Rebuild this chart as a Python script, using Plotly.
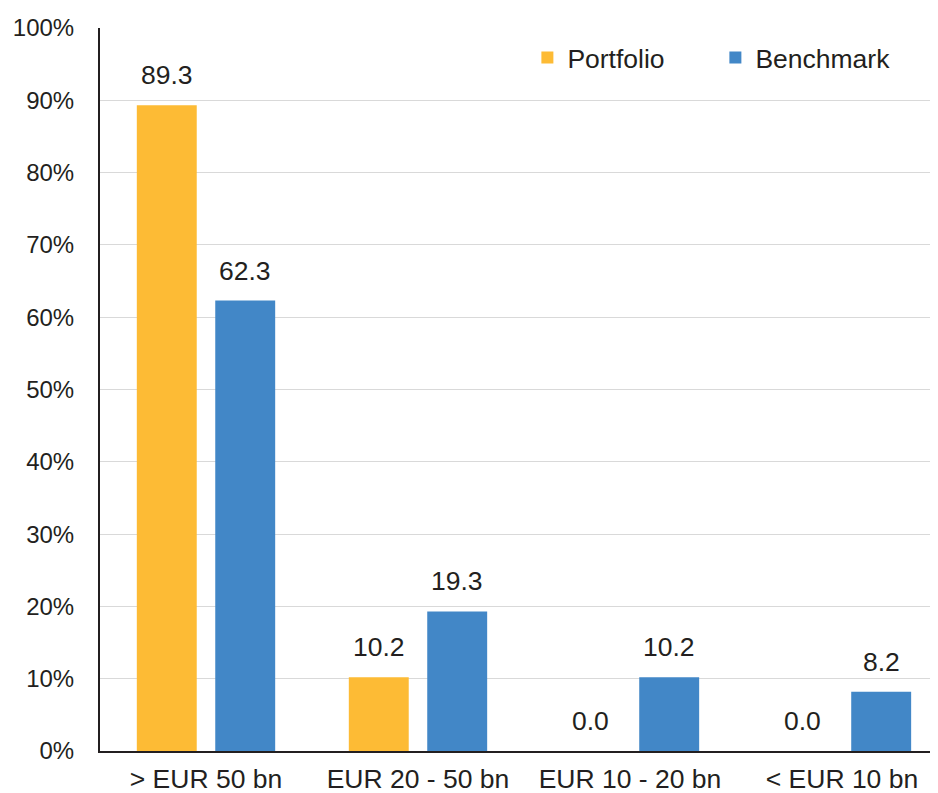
import plotly.graph_objects as go

categories = ["> EUR 50 bn", "EUR 20 - 50 bn", "EUR 10 - 20 bn", "< EUR 10 bn"]
portfolio = [89.3, 10.2, 0.0, 0.0]
benchmark = [62.3, 19.3, 10.2, 8.2]
y_ticks = list(range(0, 101, 10))
y_tick_labels = [f"{v}%" for v in y_ticks]

c_port = "#FDBB35"
c_bench = "#4287C7"
txt = "#231F20"
fam = "Liberation Sans, Arial, sans-serif"
font = dict(family=fam, size=26.5, color=txt)
yfont = dict(family=fam, size=24, color=txt)

bargap = 0.26
slot = (1 - bargap) / 2

fig = go.Figure()
fig.add_trace(go.Bar(name="Portfolio", x=categories, y=portfolio, marker=dict(color=c_port, line=dict(width=0)),
                     offsetgroup="p"))
fig.add_trace(go.Bar(name="Benchmark", x=categories, y=benchmark, marker=dict(color=c_bench, line=dict(width=0)),
                     offsetgroup="b"))

# data labels above bars
ann = []
for i, cat in enumerate(categories):
    for val, shift in ((portfolio[i], -0.5), (benchmark[i], 0.5)):
        ann.append(dict(x=i + shift * slot, y=val, xref="x", yref="y", text=f"{val:.1f}",
                        showarrow=False, yanchor="bottom", yshift=13, font=font))

fig.update_layout(
    width=938, height=793,
    margin=dict(l=92, r=8, t=20, b=50),
    paper_bgcolor="white", plot_bgcolor="white",
    font=font,
    barmode="group", bargap=bargap, bargroupgap=0.236,
    showlegend=True,
    legend=dict(orientation="h", x=0.51, y=0.992, xanchor="left", yanchor="top",
                font=font, entrywidth=143, bgcolor="rgba(0,0,0,0)"),
    annotations=ann,
)
fig.update_xaxes(type="category", showline=True, linecolor=txt, linewidth=2, showgrid=False,
                 ticks="", tickfont=font, range=[-0.5, 3.453], ticklabelstandoff=3, automargin=False)
fig.update_yaxes(range=[0, 100], tickvals=y_ticks, ticktext=y_tick_labels, showline=True,
                 linecolor=txt, linewidth=2, showgrid=True, gridcolor="#D9D9D9", gridwidth=1,
                 ticks="", tickfont=yfont, ticklabelstandoff=19, zeroline=False, automargin=False)

fig.write_html("out.html")
